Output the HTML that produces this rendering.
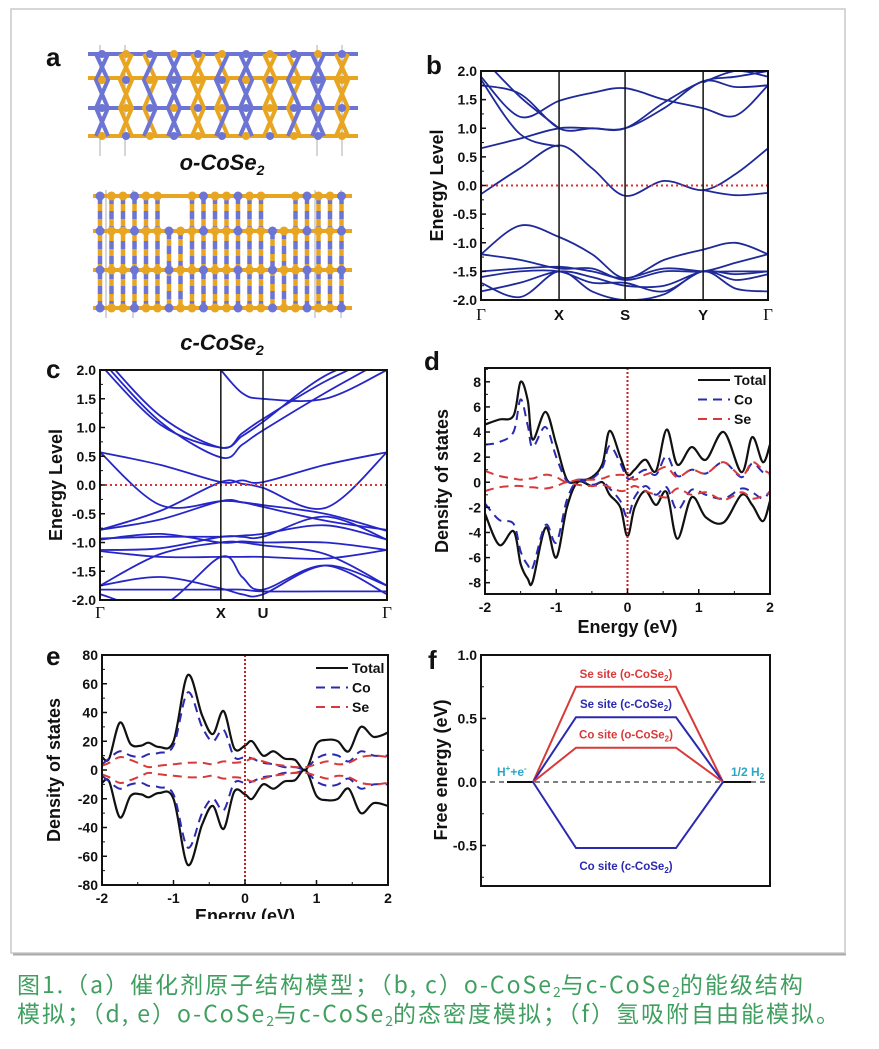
<!DOCTYPE html>
<html><head><meta charset="utf-8"><title>CoSe2 figure</title>
<style>
html,body{margin:0;padding:0;background:#fff;}
body{width:879px;height:1049px;overflow:hidden;position:relative;font-family:"Liberation Sans",sans-serif;}
#fig{position:absolute;left:0;top:0;}
.cap{position:absolute;left:17px;color:#3f9f5f;font-family:"Noto Sans CJK SC","Liberation Sans",sans-serif;font-size:23px;line-height:28px;white-space:nowrap;letter-spacing:2px;}
.cap sub{font-size:14px;vertical-align:-4px;line-height:0;letter-spacing:0;}
</style></head>
<body>
<svg id="fig" width="879" height="1049" xmlns="http://www.w3.org/2000/svg">
<defs><clipPath id="clipE"><rect x="0" y="0" width="879" height="919"/></clipPath></defs>
<rect x="11" y="9" width="834" height="944" fill="#fff" stroke="#c8c8c8" stroke-width="1.5"/>
<line x1="13" y1="954.5" x2="846" y2="954.5" stroke="#aaa" stroke-width="2"/>
<g id="panelA"></g>
<g id="panelB"></g>
<g id="panelC"></g>
<g id="panelD"></g>
<g id="panelE" clip-path="url(#clipE)"></g>
<g id="panelF"></g>
</svg>
<div class="cap" style="top:969px">图1.（a）催化剂原子结构模型；（b, c）o-CoSe<sub>2</sub>与c-CoSe<sub>2</sub>的能级结构</div>
<div class="cap" style="top:998px">模拟；（d, e）o-CoSe<sub>2</sub>与c-CoSe<sub>2</sub>的态密度模拟；（f）氢吸附自由能模拟。</div>
<script>
// ---------- Panel b data ----------
const bKTicks = [0, 0.272, 0.502, 0.774, 1];
const bKLabels = ["Γ", "X", "S", "Y", "Γ"];
const bKSamples = [0, 0.136, 0.272, 0.387, 0.502, 0.638, 0.774, 0.887, 1];
const bBand1 = [-0.15, 0.3, 0.7, 0.3, -0.18, 0.08, -0.08, 0.2, 0.65];
const bBand2 = [0.65, 0.82, 1.0, 1.0, 1.0, 1.45, 1.82, 1.9, 2.0];
const bBand3 = [1.9, 1.2, 1.48, 1.62, 1.7, 1.5, 1.35, 1.22, 1.75];
const bBand4 = [1.75, 1.6, 1.0, 1.0, 1.0, 1.35, 1.82, 1.72, 1.75];
const bBand5 = [1.85, 0.9, 0.68, null, null, null, null, null, null];
const bBand6 = [2.25, 1.55, 1.0, null, null, null, 1.8, 2.0, 1.9];
const bBand7 = [-1.2, -0.7, -0.9, -1.2, -1.62, -1.3, -1.12, -1.0, -1.2];
const bBand8 = [-1.2, -1.3, -1.45, -1.45, -1.65, -1.5, -1.5, -1.35, -1.2];
const bBand9 = [-1.5, -1.45, -1.42, -1.5, -1.62, -1.45, -1.5, -1.5, -1.5];
const bBand10 = [-1.6, -1.5, -1.5, -1.7, -1.7, -1.85, -1.5, -1.65, -1.55];
const bBand11 = [-1.7, -1.95, -1.5, -1.85, -2.0, -1.9, -1.5, -1.8, -1.85];
const bBand12 = [-1.85, -1.7, -1.5, -1.6, -1.75, -1.75, -1.5, -1.55, -1.5];
const bBand13 = [null, null, null, null, null, null, -0.08, -0.17, -0.13];
// ---------- Panel c data ----------
const cKTicks = [0, 0.421, 0.568, 1];
const cKLabels = ["Γ", "X", "U", "Γ"];
const cKSamples = [0, 0.21, 0.421, 0.495, 0.568, 0.784, 1];
const cBand1 = [0.57, 0.35, 0.05, 0.08, 0.05, 0.35, 0.57];
const cBand2 = [0.57, -0.35, -0.28, -0.3, -0.35, -0.5, -0.8];
const cBand3 = [-0.78, -0.45, 0.05, 0.02, -0.05, -0.4, 0.57];
const cBand4 = [-0.78, -0.6, -0.28, -0.3, -0.38, -0.62, -0.78];
const cBand5 = [2.3, 1.2, 0.65, 0.9, 1.15, 1.8, 2.3];
const cBand6 = [2.2, 1.1, 0.48, 0.7, 0.95, 1.6, 2.2];
const cBand7 = [2.1, 1.05, 0.65, 0.85, 1.1, 1.9, 2.3];
const cBand8 = [null, null, 2.0, 1.6, 1.5, 1.5, 2.0];
const cBand9 = [-0.93, -0.9, -0.9, -0.88, -0.85, -0.7, -0.95];
const cBand10 = [-0.95, -0.85, -1.0, -0.98, -1.0, -1.0, -1.13];
const cBand11 = [-1.13, -1.1, -0.9, -0.9, -0.9, -0.55, -0.95];
const cBand12 = [-1.15, -1.25, -1.25, -1.25, -1.25, -1.28, -1.13];
const cBand13 = [-1.75, -1.2, -1.0, -1.0, -1.05, -1.2, -1.75];
const cBand14 = [-1.75, -1.6, -1.8, -1.9, -1.9, -1.4, -1.75];
const cBand15 = [-1.82, -1.82, -1.82, -1.82, -1.85, -1.85, -1.85];
const cBand16 = [-1.9, -2.1, -1.25, -1.6, -1.82, -1.4, -1.9];
// ---------- Panel d data ----------
const dEnergy = [-2,-1.8,-1.6,-1.5,-1.4,-1.33,-1.15,-1.0,-0.85,-0.7,-0.5,-0.35,-0.25,-0.1,0,0.1,0.25,0.4,0.55,0.7,0.9,1.1,1.35,1.6,1.75,1.9,2.0];
const dTotalUp = [4.6,5.0,5.3,8.0,6.5,3.4,5.6,3.0,0.2,0.1,0.4,1.5,4.1,2.0,0.6,1.0,1.8,0.9,4.2,1.4,2.8,1.8,4.0,0.8,3.6,1.6,3.0];
const dTotalDn = [-2.5,-5.0,-3.9,-6.5,-7.7,-7.9,-3.6,-6.0,-2.0,0.0,-0.3,0,-1.0,-2.0,-4.3,-2.0,-0.7,-1.8,-0.8,-4.5,-1.2,-2.8,-3.2,-1.0,-1.8,-3.1,-1.5];
const dCoUp = [3.0,3.2,4.0,6.6,4.5,2.8,4.4,2.0,0.1,0.2,0.3,1.2,2.9,1.5,0.3,0.5,1.0,0.6,2.1,0.5,1.0,0.7,1.6,0.4,1.5,0.8,0.6];
const dCoDn = [-1.7,-3.0,-3.3,-5.5,-6.6,-6.8,-3.4,-4.8,-1.4,0.1,-0.2,0,-0.5,-1.5,-2.8,-1.2,-0.3,-1.0,-0.4,-2.2,-0.6,-1.0,-1.3,-0.5,-0.8,-1.3,-0.7];
const dSeUp = [0.9,0.5,0.3,0.2,0.3,0.3,0.6,0.4,0.0,0.2,0.2,0.3,0.5,0.6,0.5,0.2,0.6,0.9,1.2,0.4,1.0,0.7,1.6,0.5,1.6,1.0,0.7];
const dSeDn = [-0.7,-0.4,-0.3,-0.3,-0.4,-0.4,-0.5,-0.3,0.0,-0.2,-0.3,-0.2,-0.4,-0.7,-0.6,-0.3,-0.7,-1.0,-1.2,-0.5,-1.0,-0.8,-1.4,-0.8,-1.3,-1.1,-0.8];
const dYTicks = [-8,-6,-4,-2,0,2,4,6,8];
const dXTicks = [-2,-1,0,1,2];
// ---------- Panel e data ----------
const eEnergy = [-2,-1.9,-1.75,-1.6,-1.45,-1.35,-1.2,-1.0,-0.8,-0.6,-0.45,-0.3,-0.15,0,0.1,0.25,0.4,0.55,0.7,0.85,1.0,1.15,1.3,1.45,1.62,1.8,2.0];
const eTotalUp = [9,8,33,18,17,19,16,20,66,38,25,41,15,17,20,10,13,8,7,0,18,21,20,13,30,23,26];
const eTotalDn = [-9,-8,-33,-18,-17,-19,-16,-20,-66,-38,-25,-41,-15,-17,-20,-10,-13,-8,-7,0,-18,-21,-20,-13,-30,-23,-25];
const eCoUp = [4,8,13,10,9,11,12,17,54,30,20,28,9,9,8,5,4,2,2,1,8,11,10,6,13,10,10];
const eCoDn = [-4,-8,-13,-10,-9,-11,-12,-17,-54,-30,-20,-28,-9,-9,-8,-5,-4,-2,-2,-1,-8,-11,-10,-6,-13,-10,-10];
const eSeUp = [3,5,9,7,4,2,3,4,5,5,4,6,5,6,8,6,4,3,2,2,4,6,4,5,9,10,9];
const eSeDn = [-3,-5,-9,-7,-4,-2,-3,-4,-5,-5,-4,-6,-5,-6,-8,-6,-4,-3,-2,-2,-4,-6,-4,-5,-9,-10,-9];
const eYTicks = [-80,-60,-40,-20,0,20,40,60,80];
const eXTicks = [-2,-1,0,1,2];
// ---------- Panel f data ----------
const fSites = ["Se site (o-CoSe2)", "Se site (c-CoSe2)", "Co site (o-CoSe2)", "Co site (c-CoSe2)"];
const fEnergies = [0.75, 0.51, 0.27, -0.52];
const fColors = ["#d83a3a", "#2a2ab0", "#d83a3a", "#2a2ab0"];
const fYTicks = [-0.5, 0.0, 0.5, 1.0];

const NS = "http://www.w3.org/2000/svg";
function mk(parent, tag, attrs, text) {
  const e = document.createElementNS(NS, tag);
  for (const k in attrs) e.setAttribute(k, attrs[k]);
  if (text !== undefined) e.textContent = text;
  parent.appendChild(e);
  return e;
}
function smoothPath(pts) {
  if (pts.length < 2) return "";
  let d = "M" + pts[0][0].toFixed(1) + "," + pts[0][1].toFixed(1);
  for (let i = 0; i < pts.length - 1; i++) {
    const p0 = pts[i - 1] || pts[i], p1 = pts[i], p2 = pts[i + 1], p3 = pts[i + 2] || p2;
    const c1x = p1[0] + (p2[0] - p0[0]) / 6, c1y = p1[1] + (p2[1] - p0[1]) / 6;
    const c2x = p2[0] - (p3[0] - p1[0]) / 6, c2y = p2[1] - (p3[1] - p1[1]) / 6;
    d += " C" + c1x.toFixed(1) + "," + c1y.toFixed(1) + " " + c2x.toFixed(1) + "," + c2y.toFixed(1) + " " + p2[0].toFixed(1) + "," + p2[1].toFixed(1);
  }
  return d;
}
function linScale(d0, d1, r0, r1) { return v => r0 + (v - d0) / (d1 - d0) * (r1 - r0); }

function frame(g, x0, y0, x1, y1, name) {
  const r = mk(g, "rect", {x: x0, y: y0, width: x1 - x0, height: y1 - y0, fill: "none", stroke: "#111", "stroke-width": 2});
  
  
}
function yAxis(g, ticks, ys, x0, fmt, minorStep, yMin, yMax, name) {
  ticks.forEach(t => {
    const y = ys(t);
    const l = mk(g, "line", {x1: x0, y1: y, x2: x0 + 5, y2: y, stroke: "#111", "stroke-width": 1.5});
    
    
    const tx = mk(g, "text", {x: x0 - 4, y: y + 5, "text-anchor": "end", "font-size": 14, "font-weight": "bold", fill: "#111"}, fmt(t));
    
    
  });
  if (minorStep) {
    for (let v = yMin; v <= yMax + 1e-9; v += minorStep) {
      const y = ys(v);
      const l = mk(g, "line", {x1: x0, y1: y, x2: x0 + 3, y2: y, stroke: "#111", "stroke-width": 1});
      
      
    }
  }
}
function yTitle(g, x, y, txt, name) {
  const t = mk(g, "text", {x: x, y: y, "text-anchor": "middle", "font-size": 18, "font-weight": "bold", fill: "#111", transform: "rotate(-90 " + x + " " + y + ")"}, txt);
  
  
}
function label(g, x, y, txt, size, name, extra) {
  const a = Object.assign({x: x, y: y, "font-size": size, "font-weight": "bold", fill: "#111"}, extra || {});
  const t = mk(g, "text", a, txt);
  
  
  return t;
}

// ---------- Band panels ----------
function bandPanel(g, box, kTicks, kLabels, kSamples, bands, labelY, letter, letterPos, titleX) {
  const xs = linScale(0, 1, box.x0, box.x1), ys = linScale(-2, 2, box.y1, box.y0);
  const cp = "clip" + letter;
  const defs = mk(g, "defs", {});
  const c = mk(defs, "clipPath", {id: cp});
  mk(c, "rect", {x: box.x0, y: box.y0, width: box.x1 - box.x0, height: box.y1 - box.y0});
  const bg = mk(g, "g", {"clip-path": "url(#" + cp + ")"});
  bands.forEach((b, bi) => {
    let seg = [];
    const flush = () => {
      if (seg.length > 1) {
        const p = mk(bg, "path", {d: smoothPath(seg), fill: "none", stroke: letter === "b" ? "#1f2a9a" : "#2626c8", "stroke-width": 1.8});
        
        
      }
      seg = [];
    };
    b.forEach((v, i) => { if (v === null) flush(); else seg.push([xs(kSamples[i]), ys(v)]); });
    flush();
  });
  const fl = mk(g, "line", {x1: box.x0, y1: ys(0), x2: box.x1, y2: ys(0), stroke: "#e03030", "stroke-width": 2, "stroke-dasharray": "2,3"});
  
  
  kTicks.forEach((k, i) => {
    if (i > 0 && i < kTicks.length - 1) {
      const l = mk(g, "line", {x1: xs(k), y1: box.y0, x2: xs(k), y2: box.y1, stroke: "#111", "stroke-width": 1.5});
      
      
    }
    const isG = kLabels[i] === "Γ";
    const t = mk(g, "text", {x: xs(k), y: labelY, "text-anchor": "middle", "font-size": isG ? 17 : 15, "font-weight": isG ? "normal" : "bold", "font-family": isG ? "Liberation Serif, serif" : "Liberation Sans, sans-serif", fill: "#111"}, kLabels[i]);
    
    
  });
  frame(g, box.x0, box.y0, box.x1, box.y1, 'plot-frame');
  yAxis(g, [-2, -1.5, -1, -0.5, 0, 0.5, 1, 1.5, 2], ys, box.x0, v => v.toFixed(1), 0.25, -2, 2, 'y-axis');
  yTitle(g, titleX, (box.y0 + box.y1) / 2, "Energy Level", 'y-axis-title');
  label(g, letterPos[0], letterPos[1], letter, 26, 'panel-label');
}
bandPanel(document.getElementById("panelB"), {x0: 481, x1: 768, y0: 71, y1: 300}, bKTicks, bKLabels, bKSamples,
  [bBand1, bBand2, bBand3, bBand4, bBand5, bBand6, bBand7, bBand8, bBand9, bBand10, bBand11, bBand12, bBand13], 320, "b", [426, 74], 443);
bandPanel(document.getElementById("panelC"), {x0: 100, x1: 387, y0: 370, y1: 600}, cKTicks, cKLabels, cKSamples,
  [cBand1, cBand2, cBand3, cBand4, cBand5, cBand6, cBand7, cBand8, cBand9, cBand10, cBand11, cBand12, cBand13, cBand14, cBand15, cBand16], 618, "c", [46, 378], 62);

// ---------- DOS panels ----------
function dosPanel(g, box, energy, series, yRange, yTicks, xTicks, letter, letterPos, titleX, xTitleY, legend) {
  const xs = linScale(-2, 2, box.x0, box.x1), ys = linScale(yRange[0], yRange[1], box.y1, box.y0);
  const cp = "clipDos" + letter;
  const defs = mk(g, "defs", {});
  const c = mk(defs, "clipPath", {id: cp});
  mk(c, "rect", {x: box.x0, y: box.y0, width: box.x1 - box.x0, height: box.y1 - box.y0});
  const pg = mk(g, "g", {"clip-path": "url(#" + cp + ")"});
  const vl = mk(g, "line", {x1: xs(0), y1: box.y0, x2: xs(0), y2: box.y1, stroke: "#c02020", "stroke-width": 2, "stroke-dasharray": "2,2"});
  
  
  series.forEach(s => {
    const p = mk(pg, "path", {d: smoothPath(energy.map((e, i) => [xs(e), ys(s.v[i])])), fill: "none", stroke: s.color, "stroke-width": s.dash ? 2 : 2.2, "stroke-dasharray": s.dash || "none"});
    
    
  });
  frame(g, box.x0, box.y0, box.x1, box.y1, 'plot-frame');
  const minor = (yTicks[1] - yTicks[0]) / 2;
  yAxis(g, yTicks, ys, box.x0, v => String(v), minor, yRange[0] + ((yTicks[0] - yRange[0]) % minor), yRange[1], 'y-axis');
  xTicks.forEach((t, ti) => {
    const x = xs(t);
    const l = mk(g, "line", {x1: x, y1: box.y1, x2: x, y2: box.y1 - 5, stroke: "#111", "stroke-width": 1.5});
    
    
    if (ti < xTicks.length - 1) {
      const mx = (x + xs(xTicks[ti + 1])) / 2;
      const l2 = mk(g, "line", {x1: mx, y1: box.y1, x2: mx, y2: box.y1 - 3, stroke: "#111", "stroke-width": 1});
      
      
    }
    label(g, x, box.y1 + 18, String(t), 14, 'x-axis-tick-label', {"text-anchor": "middle"});
  });
  label(g, (box.x0 + box.x1) / 2, xTitleY, "Energy (eV)", 18, 'x-axis-title', {"text-anchor": "middle"});
  yTitle(g, titleX, (box.y0 + box.y1) / 2, "Density of states", 'y-axis-title');
  label(g, letterPos[0], letterPos[1], letter, 26, 'panel-label');
  legend.items.forEach((it, i) => {
    const y = legend.y + i * legend.dy;
    const l = mk(g, "line", {x1: legend.x, y1: y, x2: legend.x + 32, y2: y, stroke: it.color, "stroke-width": 2, "stroke-dasharray": it.dash || "none"});
    
    
    label(g, legend.x + 36, y + 5, it.label, 14, 'legend-entry-' + it.label.toLowerCase());
  });
}
const legItems = [{label: "Total", color: "#111"}, {label: "Co", color: "#2a2ab0", dash: "9,6"}, {label: "Se", color: "#d83a3a", dash: "9,6"}];
dosPanel(document.getElementById("panelD"), {x0: 485, x1: 770, y0: 368, y1: 594}, dEnergy, [
  {name: "total-up", v: dTotalUp, color: "#111"}, {name: "total-down", v: dTotalDn, color: "#111"},
  {name: "co-up", v: dCoUp, color: "#2a2ab0", dash: "9,6"}, {name: "co-down", v: dCoDn, color: "#2a2ab0", dash: "9,6"},
  {name: "se-up", v: dSeUp, color: "#d83a3a", dash: "9,6"}, {name: "se-down", v: dSeDn, color: "#d83a3a", dash: "9,6"}],
  [-8.9, 9.1], dYTicks, dXTicks, "d", [424, 370], 448, 633, {x: 698, y: 380, dy: 19.5, items: legItems});
dosPanel(document.getElementById("panelE"), {x0: 102, x1: 388, y0: 655, y1: 885}, eEnergy, [
  {name: "total-up", v: eTotalUp, color: "#111"}, {name: "total-down", v: eTotalDn, color: "#111"},
  {name: "co-up", v: eCoUp, color: "#2a2ab0", dash: "9,6"}, {name: "co-down", v: eCoDn, color: "#2a2ab0", dash: "9,6"},
  {name: "se-up", v: eSeUp, color: "#d83a3a", dash: "9,6"}, {name: "se-down", v: eSeDn, color: "#d83a3a", dash: "9,6"}],
  [-80, 80], eYTicks, eXTicks, "e", [46, 665], 60, 922, {x: 316, y: 668, dy: 19.5, items: legItems});

// ---------- Panel f ----------
(function () {
  const g = document.getElementById("panelF");
  const box = {x0: 481, x1: 770, y0: 655, y1: 886};
  const ys = linScale(0, 1, 782, 655);
  const bl = mk(g, "line", {x1: box.x0, y1: ys(0), x2: box.x1, y2: ys(0), stroke: "#333", "stroke-width": 1.3, "stroke-dasharray": "5,4"});
  
  
  const lv = mk(g, "line", {x1: 507, y1: ys(0), x2: 533, y2: ys(0), stroke: "#111", "stroke-width": 2});
  
  
  const lv2 = mk(g, "line", {x1: 723, y1: ys(0), x2: 751, y2: ys(0), stroke: "#111", "stroke-width": 2});
  
  
  fEnergies.forEach((e, i) => {
    const y = ys(e);
    const p = mk(g, "path", {d: "M533," + ys(0) + " L576," + y + " L676," + y + " L723," + ys(0), fill: "none", stroke: fColors[i], "stroke-width": 2});
    
    
    const ly = e > 0 ? y - 9 : y + 22;
    const parts = fSites[i].split("CoSe2");
    const t = mk(g, "text", {x: 626, y: ly, "text-anchor": "middle", "font-size": 11.5, "font-weight": "bold", fill: fColors[i]});
    
    
    mk(t, "tspan", {}, parts[0] + "CoSe");
    mk(t, "tspan", {"font-size": 8, dy: 3}, "2");
    mk(t, "tspan", {dy: -3}, ")");
  });
  const h = mk(g, "text", {x: 497, y: 776, "font-size": 12, "font-weight": "bold", fill: "#2aa6c8"});
  
  
  mk(h, "tspan", {}, "H");
  mk(h, "tspan", {"font-size": 8, dy: -5}, "+");
  mk(h, "tspan", {dy: 5}, "+e");
  mk(h, "tspan", {"font-size": 8, dy: -5}, "-");
  const h2 = mk(g, "text", {x: 731, y: 776, "font-size": 12, "font-weight": "bold", fill: "#2aa6c8"});
  
  
  mk(h2, "tspan", {}, "1/2 H");
  mk(h2, "tspan", {"font-size": 8, dy: 3}, "2");
  frame(g, box.x0, box.y0, box.x1, box.y1, 'plot-frame');
  yAxis(g, fYTicks, ys, box.x0, v => v.toFixed(1), 0.25, -0.75, 1.0, 'y-axis');
  yTitle(g, 447, 770, "Free energy (eV)", 'y-axis-title');
  label(g, 428, 669, "f", 26, 'panel-label');
})();

// ---------- Panel a (structures) ----------
(function () {
  const g = document.getElementById("panelA");
  const B = "#6c74d4", O = "#e8a522";
  label(g, 46, 66, "a", 26, 'panel-label');
  const top = mk(g, "g", {});
  
  
  [100, 125, 317, 342].forEach(x => mk(top, "line", {x1: x, y1: 45, x2: x, y2: 156, stroke: "#999", "stroke-width": 0.8}));
  [54, 78, 108, 136].forEach((y, i) => mk(top, "line", {x1: 88, y1: y, x2: 358, y2: y, stroke: i % 2 ? O : B, "stroke-width": 4}));
  for (let i = 0; i < 11; i++) {
    const x = 96 + i * 24;
    mk(top, "path", {d: "M" + x + ",54 L" + (x + 12) + ",80 L" + x + ",108 L" + (x + 12) + ",136", fill: "none", stroke: i % 3 === 0 ? B : O, "stroke-width": 4});
    mk(top, "path", {d: "M" + (x + 12) + ",54 L" + x + ",80 L" + (x + 12) + ",108 L" + x + ",136", fill: "none", stroke: i % 3 === 1 ? O : B, "stroke-width": 4});
    [54, 80, 108, 136].forEach((y, j) => mk(top, "circle", {cx: x + 6, cy: y, r: 4, fill: (i + j) % 2 ? O : B}));
  }
  const t1 = label(g, 222, 170, "", 22, 'o-cose2-label', {"text-anchor": "middle", "font-style": "italic"});
  mk(t1, "tspan", {}, "o-CoSe");
  mk(t1, "tspan", {"font-size": 14, dy: 5}, "2");
  const bot = mk(g, "g", {});
  
  
  [106, 133, 315, 341].forEach(x => mk(bot, "line", {x1: x, y1: 190, x2: x, y2: 318, stroke: "#999", "stroke-width": 0.8}));
  [196, 231, 270, 308].forEach(y => mk(bot, "line", {x1: 93, y1: y, x2: 352, y2: y, stroke: O, "stroke-width": 4}));
  for (let i = 0; i < 22; i++) {
    const x = 100 + i * 11.5;
    const skipTop = (i >= 6 && i <= 7) || (i >= 15 && i <= 16);
    const y0 = skipTop ? 231 : 196;
    mk(bot, "line", {x1: x, y1: y0, x2: x, y2: 308, stroke: B, "stroke-width": 4.5, "stroke-dasharray": "8,7"});
    mk(bot, "line", {x1: x, y1: y0 + 8, x2: x, y2: 308, stroke: O, "stroke-width": 4.5, "stroke-dasharray": "7,8"});
    [196, 231, 270, 308].forEach(y => { if (!(skipTop && y === 196)) mk(bot, "circle", {cx: x, cy: y, r: 4.5, fill: (i % 3) ? O : B}); });
  }
  const t2 = label(g, 222, 350, "", 22, 'c-cose2-label', {"text-anchor": "middle", "font-style": "italic"});
  mk(t2, "tspan", {}, "c-CoSe");
  mk(t2, "tspan", {"font-size": 14, dy: 5}, "2");
})();
</script>
</body></html>
